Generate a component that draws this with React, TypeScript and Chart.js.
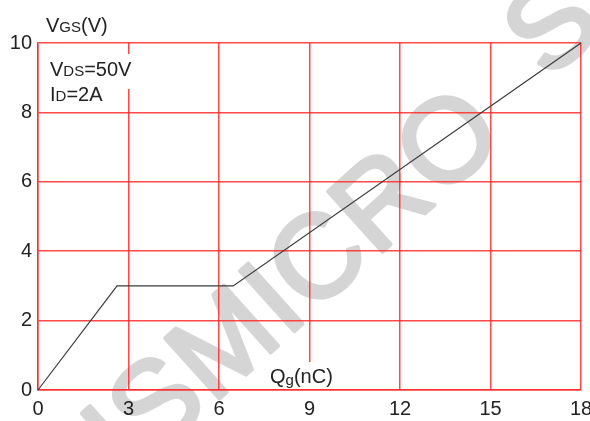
import React, { useEffect, useRef } from "react";
import { Chart, registerables } from "chart.js";

Chart.register(...registerables);

const qgValues = [0, 2.62, 6.47, 18];
const vgsValues = [0, 3, 3, 10];
const xTickValues = [0, 3, 6, 9, 12, 15, 18];
const yTickValues = [0, 2, 4, 6, 8, 10];
const watermarkMain = "ISMICRO";
const watermarkTail = "S";

const FONT = "'Liberation Sans', Arial, sans-serif";
const TEXT_COLOR = "#222";
const GRID_COLOR = "rgba(255,40,40,0.85)";

type Part = { t: string; size: number; dy?: number };

function drawRich(ctx: CanvasRenderingContext2D, parts: Part[], x: number, y: number) {
  let cx = x;
  ctx.textBaseline = "alphabetic";
  ctx.textAlign = "left";
  ctx.fillStyle = TEXT_COLOR;
  for (const p of parts) {
    ctx.font = `${p.size}px ${FONT}`;
    ctx.fillText(p.t, cx, y + (p.dy || 0));
    cx += ctx.measureText(p.t).width;
  }
}

const watermarkPlugin = {
  id: "watermark",
  beforeDraw(chart: any) {
    const ctx: CanvasRenderingContext2D = chart.ctx;
    ctx.save();
    ctx.translate(128, 481);
    ctx.rotate((-42 * Math.PI) / 180);
    ctx.font = `118px ${FONT}`;
    (ctx as any).letterSpacing = "1px";
    ctx.fillStyle = "#d5d5d5";
    ctx.strokeStyle = "#d5d5d5";
    ctx.lineWidth = 4;
    ctx.lineJoin = "round";
    ctx.textBaseline = "alphabetic";
    ctx.textAlign = "left";
    ctx.fillText(watermarkMain, 0, 0);
    ctx.strokeText(watermarkMain, 0, 0);
    const w = ctx.measureText(watermarkMain + " ").width;
    ctx.fillText(watermarkTail, w + 34, -16);
    ctx.strokeText(watermarkTail, w + 34, -16);
    ctx.restore();
  },
};

const labelsPlugin = {
  id: "labels",
  afterDatasetsDraw(chart: any) {
    const ctx: CanvasRenderingContext2D = chart.ctx;
    ctx.save();
    ctx.fillStyle = "#fff";
    ctx.fillRect(118, 54, 22, 35);
    ctx.fillRect(268, 362, 70, 27);
    drawRich(ctx, [{ t: "V", size: 20 }, { t: "GS", size: 15 }, { t: "(V)", size: 20 }], 46, 32);
    drawRich(ctx, [{ t: "V", size: 20 }, { t: "DS", size: 15 }, { t: "=50V", size: 20 }], 50, 76);
    drawRich(ctx, [{ t: "I", size: 20 }, { t: "D", size: 15 }, { t: "=2A", size: 20 }], 50, 101);
    drawRich(ctx, [{ t: "Q", size: 20 }, { t: "g", size: 15, dy: 2 }, { t: "(nC)", size: 20 }], 270, 383);
    ctx.restore();
  },
};

export default function App() {
  const ref = useRef<HTMLCanvasElement | null>(null);
  useEffect(() => {
    if (!ref.current) return;
    const chart = new Chart(ref.current, {
      type: "scatter",
      data: {
        datasets: [
          {
            data: qgValues.map((x, i) => ({ x, y: vgsValues[i] })),
            showLine: true,
            borderColor: "#3a3a3a",
            borderWidth: 1.2,
            pointRadius: 0,
            fill: false,
            clip: false as any,
          },
        ],
      },
      options: {
        animation: false,
        responsive: false,
        devicePixelRatio: 1,
        layout: { padding: { top: 43, right: 9, left: 0, bottom: 0 } },
        plugins: { legend: { display: false }, tooltip: { enabled: false } },
        scales: {
          x: {
            type: "linear",
            min: 0,
            max: 18,
            afterBuildTicks: (s: any) => {
              s.ticks = xTickValues.map((v) => ({ value: v }));
            },
            afterFit: (s: any) => {
              s.height = 31;
              s.paddingRight = 0;
              s.paddingLeft = 0;
            },
            grid: { color: GRID_COLOR, lineWidth: 1.5, drawTicks: false },
            border: { color: GRID_COLOR, width: 1.5 },
            ticks: { font: { size: 20, family: FONT }, color: TEXT_COLOR, padding: 7, maxRotation: 0 },
          },
          y: {
            type: "linear",
            min: 0,
            max: 10,
            afterBuildTicks: (s: any) => {
              s.ticks = yTickValues.map((v) => ({ value: v }));
            },
            afterFit: (s: any) => {
              s.width = 38;
              s.paddingTop = 0;
              s.paddingBottom = 0;
            },
            grid: { color: GRID_COLOR, lineWidth: 1.5, drawTicks: false },
            border: { color: GRID_COLOR, width: 1.5 },
            ticks: { font: { size: 20, family: FONT }, color: TEXT_COLOR, padding: 6 },
          },
        },
      },
      plugins: [watermarkPlugin, labelsPlugin],
    });
    return () => chart.destroy();
  }, []);
  return (
    <div style={{ position: "fixed", left: 0, top: 0, width: 590, height: 421, background: "#fff" }}>
      <canvas ref={ref} width={590} height={421} />
    </div>
  );
}
